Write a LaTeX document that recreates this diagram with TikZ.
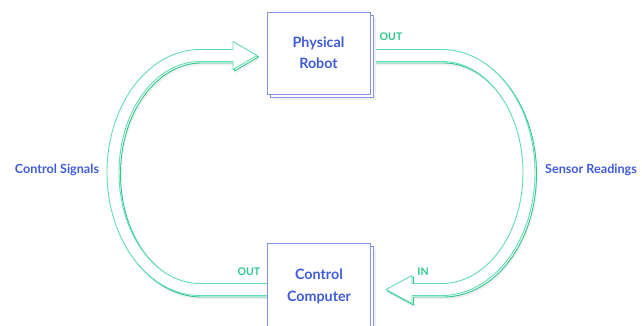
\documentclass[tikz,border=0pt]{standalone}
\usepackage{fontspec}
\setmainfont{Lato}
\usepackage{tikz}
\definecolor{mint}{HTML}{62DDB2}
\definecolor{mintdk}{HTML}{2FC88A}
\definecolor{lilac}{HTML}{8593E6}
\definecolor{ink}{HTML}{3F5BD8}
\definecolor{haze}{HTML}{F0F0F0}
\tikzset{
  face/.style={draw=mint, fill=white, line width=0.9pt, line join=round},
  side/.style={draw=mintdk, fill=white, line width=0.9pt, line join=round},
  shade/.style={draw=none, fill=haze},
  box/.style={draw=lilac, fill=white, line width=0.9pt, minimum width=103pt,
    align=center, text=ink, font=\bfseries\fontsize{14.3}{21.5}\selectfont},
  boxback/.style={draw=lilac, fill=white, line width=0.9pt},
  lab/.style={text=ink, font=\bfseries\fontsize{12.6}{15}\selectfont},
  labg/.style={text=mintdk, font=\bfseries\fontsize{10.5}{12}\selectfont}
}

\begin{document}
\begin{tikzpicture}[x=1pt, y=1pt]
  \useasboundingbox (0,0) rectangle (642,326);
  \clip (0,0) rectangle (642,326);

  % control signals: computer -> robot
  \foreach \dx/\dy/\sty in {2.5/-4/shade, 1.5/-1.5/side, 0/0/face}
    \draw[\sty, shift={(\dx,\dy)}] (268,30.5) -- (200,30.5)
      arc[start angle=270, end angle=90, x radius=93, y radius=123]
      -- (233,276.5) -- (233,284.5) -- (257,270.5) -- (233,256.5) -- (233,264.5)
      -- (200,264.5) arc[start angle=90, end angle=270, x radius=81, y radius=111]
      -- (268,42.5) -- cycle;

  % sensor readings: robot -> computer
  \foreach \dx/\dy/\sty in {2.5/-4/shade, 1.5/-1.5/side, 0/0/face}
    \draw[\sty, shift={(\dx,\dy)}] (370,276.5) -- (442,276.5)
      arc[start angle=90, end angle=-90, x radius=93, y radius=123]
      -- (412,30.5) -- (412,22.5) -- (386,36.5) -- (412,50.5) -- (412,42.5)
      -- (442,42.5) arc[start angle=-90, end angle=90, x radius=81, y radius=111]
      -- (370,264.5) -- cycle;

  % boxes
  \fill[haze] (273,226) rectangle (376,308);
  \draw[boxback] (270,229) rectangle (373,311);
  \node[box, minimum height=82pt] (robot) at (318.5,273) {Physical\\Robot};

  \fill[haze] (274,-10) rectangle (376,77);
  \draw[boxback] (271,-7) rectangle (373,80);
  \node[box, minimum height=87pt] (computer) at (319,39.5) {Control\\Computer};

  \node[lab] (signals) at (57,156) {Control Signals};
  \node[lab] (readings) at (591,156) {Sensor Readings};
  \node[labg] (robotout) at (391,289) {OUT};
  \node[labg] (compout) at (249,54) {OUT};
  \node[labg] (compin) at (423,54) {IN};
\end{tikzpicture}
\end{document}
